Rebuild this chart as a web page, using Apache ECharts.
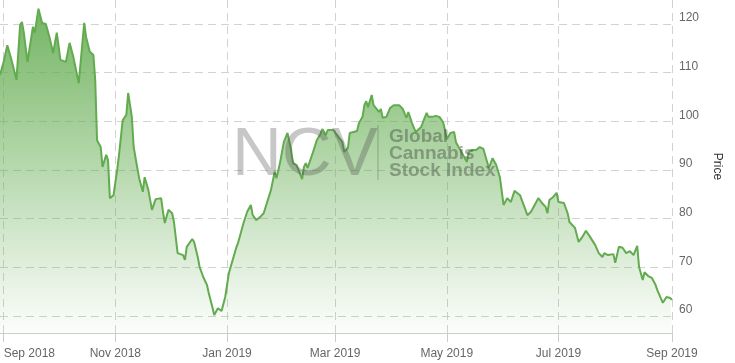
<!DOCTYPE html>
<html>
<head>
<meta charset="utf-8">
<script src="https://cdn.jsdelivr.net/npm/echarts@6/dist/echarts.min.js"></script>
<style>
html,body{margin:0;padding:0;background:#fff;}
#chart{width:735px;height:363px;}
</style>
</head>
<body>
<div id="chart"></div>
<script>
const dates = [
'2018-08-30','2018-09-01','2018-09-03','2018-09-05','2018-09-06','2018-09-08','2018-09-10','2018-09-11','2018-09-12','2018-09-14','2018-09-15','2018-09-17','2018-09-18','2018-09-20','2018-09-22','2018-09-23','2018-09-24','2018-09-26','2018-09-28','2018-09-30',
'2018-10-02','2018-10-03','2018-10-05','2018-10-07','2018-10-09','2018-10-12','2018-10-15','2018-10-16','2018-10-18','2018-10-20','2018-10-21','2018-10-22','2018-10-24','2018-10-25','2018-10-27','2018-10-28','2018-10-29','2018-10-30','2018-10-31',
'2018-11-02','2018-11-03','2018-11-05','2018-11-07','2018-11-08','2018-11-10','2018-11-11','2018-11-13','2018-11-14','2018-11-16','2018-11-17','2018-11-18','2018-11-19','2018-11-21','2018-11-23','2018-11-26','2018-11-27','2018-11-28','2018-11-30',
'2018-12-02','2018-12-03','2018-12-05','2018-12-08','2018-12-09','2018-12-10','2018-12-13','2018-12-14','2018-12-16','2018-12-17','2018-12-19','2018-12-21','2018-12-22','2018-12-24','2018-12-25','2018-12-26','2018-12-27','2018-12-29','2018-12-31',
'2019-01-01','2019-01-02','2019-01-03','2019-01-06','2019-01-07','2019-01-08','2019-01-10','2019-01-12','2019-01-14','2019-01-15','2019-01-17','2019-01-19','2019-01-21','2019-01-22','2019-01-25','2019-01-27','2019-01-28','2019-01-30',
'2019-02-01','2019-02-03','2019-02-05','2019-02-06','2019-02-08','2019-02-09','2019-02-11','2019-02-12','2019-02-13','2019-02-14','2019-02-17','2019-02-19','2019-02-21','2019-02-22','2019-02-24','2019-02-25','2019-02-26','2019-02-28',
'2019-03-01','2019-03-02','2019-03-03','2019-03-05','2019-03-06','2019-03-08','2019-03-09','2019-03-11','2019-03-13','2019-03-14','2019-03-16','2019-03-17','2019-03-18','2019-03-19','2019-03-21','2019-03-22','2019-03-23','2019-03-25','2019-03-26','2019-03-27','2019-03-29','2019-03-31',
'2019-04-02','2019-04-03','2019-04-05','2019-04-06','2019-04-07','2019-04-09','2019-04-10','2019-04-12','2019-04-14','2019-04-15','2019-04-17','2019-04-18','2019-04-20','2019-04-21','2019-04-23','2019-04-25','2019-04-26','2019-04-27','2019-04-29','2019-04-30',
'2019-05-01','2019-05-03','2019-05-05','2019-05-06','2019-05-07','2019-05-09','2019-05-10','2019-05-12','2019-05-13','2019-05-15','2019-05-17','2019-05-19','2019-05-21','2019-05-22','2019-05-24','2019-05-25','2019-05-26','2019-05-28','2019-05-30',
'2019-06-01','2019-06-03','2019-06-04','2019-06-05','2019-06-07','2019-06-08','2019-06-10','2019-06-11','2019-06-13','2019-06-14','2019-06-16','2019-06-18','2019-06-20','2019-06-22','2019-06-24','2019-06-25','2019-06-26','2019-06-28','2019-06-30',
'2019-07-01','2019-07-04','2019-07-06','2019-07-07','2019-07-10','2019-07-12','2019-07-14','2019-07-16','2019-07-18','2019-07-19','2019-07-21','2019-07-23','2019-07-25','2019-07-26','2019-07-28','2019-07-29','2019-07-31',
'2019-08-01','2019-08-03','2019-08-05','2019-08-06','2019-08-07','2019-08-09','2019-08-11','2019-08-12','2019-08-13','2019-08-14','2019-08-16','2019-08-17','2019-08-19','2019-08-21','2019-08-23','2019-08-24','2019-08-25','2019-08-27','2019-08-29','2019-08-31','2019-09-01'
];
const prices = [
109.5,112.2,115.6,113.0,112.8,108.5,119.8,120.4,118.2,112.2,112.6,119.4,118.2,123.1,120.2,120.4,120.0,117.3,114.0,118.2,
112.6,113.0,112.2,116.1,113.3,107.8,120.2,117.3,114.3,113.6,108.5,96.1,94.7,90.6,93.1,92.0,84.2,84.4,84.8,
90.0,93.1,100.2,101.3,105.8,100.9,94.7,90.4,88.3,85.5,88.5,88.5,85.9,81.8,84.0,84.2,81.4,79.1,81.8,
81.1,79.3,72.9,72.5,71.5,74.2,75.8,75.2,72.1,70.1,68.0,66.4,64.7,61.8,60.2,59.8,61.6,61.0,63.9,
64.1,68.8,69.0,74.0,75.0,75.2,79.1,81.4,82.8,80.7,79.7,80.3,81.1,81.1,85.9,89.6,88.3,91.6,
95.7,97.6,94.1,91.4,91.0,90.0,88.1,90.6,91.4,90.4,93.7,96.1,97.4,98.4,97.2,98.2,98.6,98.2,
98.6,97.2,97.6,95.7,93.7,94.5,97.6,97.8,98.0,99.6,100.9,103.3,104.1,102.9,105.4,103.3,102.9,101.9,102.5,100.7,100.9,102.7,
103.3,102.9,103.3,102.9,102.5,100.7,101.9,99.6,97.8,98.2,98.8,99.8,101.7,100.9,100.9,101.1,101.3,100.9,99.8,98.2,
96.3,97.6,97.8,95.7,95.5,93.7,94.1,91.6,93.7,94.1,94.1,94.7,94.3,94.3,90.4,91.4,92.4,91.0,88.5,
82.8,84.2,84.4,83.4,85.7,85.7,84.8,83.8,81.8,80.7,81.4,82.8,84.2,83.2,82.4,81.1,83.8,84.4,85.3,
83.4,83.2,81.1,79.3,78.1,75.2,76.2,77.5,76.4,76.2,74.6,72.9,72.1,72.9,72.5,72.5,72.7,
70.9,74.2,74.0,73.6,72.9,73.3,72.5,72.1,74.4,70.1,67.4,69.0,68.2,67.8,66.4,65.3,65.1,62.7,63.9,63.7,63.3
];
const xTicks = ['2018-09-01','2018-11-01','2019-01-01','2019-03-01','2019-05-01','2019-07-01','2019-09-01'];
const yTicks = [60,70,80,90,100,110,120];
const xRange = ['2018-08-30','2019-09-01'];
const monthNames = ['Jan','Feb','Mar','Apr','May','Jun','Jul','Aug','Sep','Oct','Nov','Dec'];

const toTime = s => Date.parse(s + 'T00:00:00Z');
const seriesData = dates.map((d, i) => [toTime(d), prices[i]]);
const FONT = 'Liberation Sans, Arial, sans-serif';
const gridDash = {color: '#d2d2d2', width: 1, type: [8, 5]};

const chart = echarts.init(document.getElementById('chart'), null, {renderer: 'canvas'});
chart.setOption({
  animation: false,
  backgroundColor: '#ffffff',
  grid: {left: 0, right: 63, top: 0, bottom: 30, containLabel: false},
  xAxis: {
    type: 'value',
    min: toTime(xRange[0]),
    max: toTime(xRange[1]),
    axisLine: {show: true, onZero: false, lineStyle: {color: '#cccccc', width: 1}},
    axisTick: {show: true, customValues: xTicks.map(toTime), length: 9, lineStyle: {color: '#cccccc'}},
    axisLabel: {
      customValues: xTicks.map(toTime),
      color: '#666666', fontSize: 12, fontFamily: FONT, margin: 15,
      alignMinLabel: 'left',
      hideOverlap: false,
      formatter: function (v) { const d = new Date(v); return monthNames[d.getUTCMonth()] + ' ' + d.getUTCFullYear(); }
    },
    splitLine: {show: true, lineStyle: gridDash}
  },
  yAxis: {
    type: 'value',
    position: 'right',
    min: 56.5,
    max: 124.9,
    axisLine: {show: false},
    axisTick: {show: false, customValues: yTicks},
    axisLabel: {
      customValues: yTicks,
      color: '#666666', fontSize: 12, fontFamily: FONT, margin: 7,
      verticalAlign: 'bottom', padding: [0, 0, 0, 0]
    },
    splitLine: {show: true, lineStyle: gridDash},
    name: 'Price',
    nameLocation: 'middle',
    nameRotate: -90,
    nameGap: 39,
    nameTextStyle: {color: '#333333', fontSize: 12, fontFamily: FONT}
  },
  graphic: [
    {type: 'text', left: 232, top: 121, z: 50, silent: true,
     style: {text: 'NCV', font: '69px ' + FONT, fill: 'rgba(70,70,70,0.3)'}},
    {type: 'rect', left: 377, top: 125, z: 50, silent: true,
     shape: {width: 2, height: 55}, style: {fill: 'rgba(70,70,70,0.18)'}},
    {type: 'text', left: 389, top: 127, z: 50, silent: true,
     style: {text: 'Global', font: 'bold 19px ' + FONT, fill: 'rgba(60,70,60,0.42)'}},
    {type: 'text', left: 389, top: 144, z: 50, silent: true,
     style: {text: 'Cannabis', font: 'bold 19px ' + FONT, fill: 'rgba(60,70,60,0.42)'}},
    {type: 'text', left: 389, top: 161, z: 50, silent: true,
     style: {text: 'Stock Index', font: 'bold 19px ' + FONT, fill: 'rgba(60,70,60,0.42)'}}
  ],
  series: [{
    type: 'line',
    data: seriesData,
    showSymbol: false,
    smooth: false,
    lineStyle: {color: '#62ab4f', width: 2},
    itemStyle: {color: '#62ab4f'},
    areaStyle: {
      opacity: 1,
      color: new echarts.graphic.LinearGradient(0, 0, 0, 1, [
        {offset: 0, color: 'rgba(101,173,82,0.9)'},
        {offset: 1, color: 'rgba(101,173,82,0.02)'}
      ])
    }
  }]
});
</script>
</body>
</html>
